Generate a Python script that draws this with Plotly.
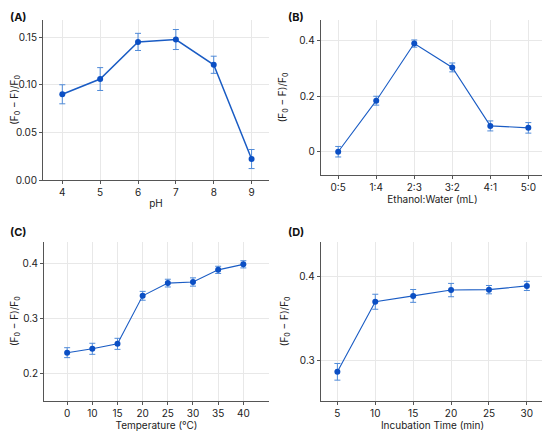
import plotly.graph_objects as go
from plotly.subplots import make_subplots

# (A) pH
ph = [4, 5, 6, 7, 8, 9]
ph_val = [0.090, 0.106, 0.145, 0.1475, 0.121, 0.022]
ph_err = [0.010, 0.012, 0.009, 0.0105, 0.009, 0.010]

# (B) ethanol:water ratio
ratio = ["0:5", "1:4", "2:3", "3:2", "4:1", "5:0"]
ratio_val = [0.0, 0.184, 0.390, 0.304, 0.093, 0.086]
ratio_err = [0.019, 0.016, 0.013, 0.016, 0.018, 0.019]

# (C) temperature
temp = ["0", "10", "15", "20", "25", "30", "35", "40"]
temp_val = [0.238, 0.245, 0.254, 0.341, 0.364, 0.366, 0.388, 0.398]
temp_err = [0.009, 0.010, 0.010, 0.008, 0.007, 0.0075, 0.0065, 0.0065]

# (D) incubation time
inc = [5, 10, 15, 20, 25, 30]
inc_val = [0.286, 0.370, 0.377, 0.384, 0.3845, 0.389]
inc_err = [0.010, 0.009, 0.0077, 0.008, 0.005, 0.0055]

LINE = "#1a5cc4"
MARK = "#0b4fc4"
ERR = "#4f8ad8"
FONT = "Inter"
W, H = 550, 433
PAD = 8  # the page body margin shifts the figure by this much


def fx(px):
    return (px - PAD) / W


def fy(px):
    return 1 - (px - PAD) / H


fig = make_subplots(rows=2, cols=2)

# panel A is drawn with a slightly heavier line than the others
panels = [
    (1, 1, ph, ph_val, ph_err, 1.5),
    (1, 2, ratio, ratio_val, ratio_err, 1.1),
    (2, 1, temp, temp_val, temp_err, 1.1),
    (2, 2, inc, inc_val, inc_err, 1.1),
]
for r, c, x, y, e, lw in panels:
    fig.add_trace(
        go.Scatter(
            x=x, y=y, mode="lines+markers",
            line={"color": LINE, "width": lw},
            marker={"color": MARK, "size": 6},
            error_y={"type": "data", "array": e, "color": ERR,
                     "thickness": 1, "width": 3},
            showlegend=False,
        ),
        row=r, col=c,
    )

# plot-area boxes in screen pixels (left, right, top, bottom)
boxes = {
    "": (43, 269, 20, 180),
    "2": (320.7, 544.3, 20, 175),
    "3": (44, 269, 241.7, 400.7),
    "4": (320.7, 544.3, 241.7, 401),
}
for key, (l, rr, t, b) in boxes.items():
    fig.layout["xaxis" + key].domain = [fx(l), fx(rr)]
    fig.layout["yaxis" + key].domain = [fy(b), fy(t)]

axis_style = dict(
    showline=True, linecolor="#555", linewidth=1,
    showgrid=True, gridcolor="#e8e8e8", gridwidth=1,
    ticks="outside", ticklen=3, tickcolor="#555",
    tickfont={"size": 10, "color": "#222"},
    zeroline=False, mirror=False, automargin=False,
)
fig.update_xaxes(**axis_style)
fig.update_yaxes(**axis_style)

ytitle = "(F<sub>0</sub> − F)/F<sub>0</sub>"
title_font = {"size": 10, "color": "#222"}

fig.update_xaxes(range=[3.49, 9.46], dtick=1, title={"text": "pH", "font": title_font, "standoff": 2}, row=1, col=1)
fig.update_yaxes(range=[0, 0.168], tickvals=[0, 0.05, 0.10, 0.15], tickformat=".2f",
                 title={"text": ytitle, "font": title_font, "standoff": 4}, row=1, col=1)

fig.update_xaxes(type="category", range=[-0.46, 5.42],
                 title={"text": "Ethanol:Water (mL)", "font": title_font, "standoff": 2}, row=1, col=2)
fig.update_yaxes(range=[-0.084, 0.475], tickvals=[0, 0.2, 0.4], tickformat="~g",
                 title={"text": ytitle, "font": title_font, "standoff": 10}, row=1, col=2)

fig.update_xaxes(type="category", range=[-0.92, 8.02],
                 title={"text": "Temperature (°C)", "font": title_font, "standoff": 2}, row=2, col=1)
fig.update_yaxes(range=[0.151, 0.439], tickvals=[0.2, 0.3, 0.4], tickformat=".1f",
                 title={"text": ytitle, "font": title_font, "standoff": 7}, row=2, col=1)

fig.update_xaxes(range=[2.8, 32.3], dtick=5,
                 title={"text": "Incubation Time (min)", "font": title_font, "standoff": 2}, row=2, col=2)
fig.update_yaxes(range=[0.251, 0.442], tickvals=[0.3, 0.4], tickformat=".1f",
                 title={"text": ytitle, "font": title_font, "standoff": 8}, row=2, col=2)

# panel letters; the top row sits against the top edge of the figure
labels = [("(A)", 8, 8), ("(B)", 286, 8), ("(C)", 8, 223), ("(D)", 286, 223)]
for text, x, y in labels:
    fig.add_annotation(
        text=f"<b>{text}</b>", xref="paper", yref="paper",
        x=fx(x), y=fy(y), xanchor="left", yanchor="top",
        showarrow=False, font={"size": 11, "color": "#111", "family": FONT},
    )

fig.update_layout(
    width=W, height=H,
    margin={"l": 0, "r": 0, "t": 0, "b": 0},
    paper_bgcolor="white", plot_bgcolor="white",
    font={"family": FONT, "color": "#222"},
)

fig.write_html("out.html")
